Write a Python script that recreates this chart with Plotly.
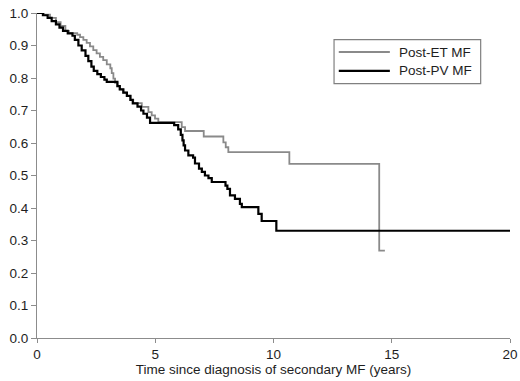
import plotly.graph_objects as go

# Post-ET MF (grey) Kaplan-Meier steps
et_time = [0, 0.30, 0.55, 0.80, 1.00, 1.20, 1.35, 1.70, 1.82, 1.96, 2.10, 2.24, 2.38, 2.52, 2.66,
           2.80, 2.95, 3.10, 3.16, 3.23, 3.30, 3.40, 3.50, 3.65, 3.80, 3.95, 4.07, 4.43, 4.71,
           4.85, 4.99, 5.13, 6.12, 6.26, 7.05, 7.88, 7.98, 8.09, 10.67, 14.47, 14.71]
et_surv = [1.0, 0.995, 0.985, 0.972, 0.960, 0.945, 0.938, 0.933, 0.926, 0.917, 0.908, 0.897, 0.886,
           0.876, 0.865, 0.855, 0.842, 0.830, 0.815, 0.798, 0.785, 0.775, 0.765, 0.755, 0.745,
           0.733, 0.723, 0.711, 0.695, 0.685, 0.675, 0.664, 0.649, 0.637, 0.620, 0.602, 0.587,
           0.572, 0.536, 0.269, 0.269]

# Post-PV MF (black) Kaplan-Meier steps
pv_time = [0, 0.25, 0.45, 0.62, 0.80, 0.95, 1.10, 1.30, 1.50, 1.60, 1.75, 1.89, 2.05, 2.17, 2.30,
           2.40, 2.55, 2.70, 2.85, 2.95, 3.40, 3.50, 3.65, 3.80, 3.95, 4.05, 4.25, 4.40, 4.50,
           4.65, 4.78, 5.80, 5.97, 6.08, 6.15, 6.20, 6.26, 6.40, 6.60, 6.68, 6.85, 6.97, 7.10,
           7.25, 7.39, 7.97, 8.05, 8.16, 8.37, 8.58, 8.66, 9.36, 9.50, 10.12, 20.0]
pv_surv = [1.0, 0.993, 0.985, 0.975, 0.965, 0.955, 0.945, 0.937, 0.930, 0.917, 0.900, 0.885, 0.868,
           0.852, 0.835, 0.822, 0.812, 0.803, 0.795, 0.788, 0.775, 0.765, 0.755, 0.745, 0.733,
           0.722, 0.712, 0.700, 0.690, 0.678, 0.662, 0.655, 0.642, 0.625, 0.608, 0.593, 0.577,
           0.562, 0.555, 0.537, 0.521, 0.511, 0.500, 0.492, 0.480, 0.469, 0.459, 0.439, 0.428,
           0.413, 0.403, 0.382, 0.360, 0.330, 0.330]

series_names = ["Post-ET MF", "Post-PV MF"]
series_colors = ["#8a8a8a", "#000000"]
series_widths = [1.8, 2.2]

x_ticks = [0, 5, 10, 15, 20]
y_ticks = [0.0, 0.1, 0.2, 0.3, 0.4, 0.5, 0.6, 0.7, 0.8, 0.9, 1.0]

FONT = "Liberation Sans, Arial, sans-serif"
AXIS = "#8c8c8c"
TXT = "#1e1e1e"

fig = go.Figure()
for t, s, n, c, w in zip([et_time, pv_time], [et_surv, pv_surv],
                         series_names, series_colors, series_widths):
    fig.add_trace(go.Scatter(x=t, y=s, mode="lines", line_shape="hv",
                             line=dict(color=c, width=w), name=n, showlegend=False))

# legend box drawn in paper coordinates (top-right inside the plot)
box_x0, box_x1, box_y0, box_y1 = 0.628, 0.938, 0.783, 0.918
fig.add_shape(type="rect", xref="paper", yref="paper", x0=box_x0, x1=box_x1,
              y0=box_y0, y1=box_y1, line=dict(color="#808080", width=1.2),
              fillcolor="white", layer="above")
row_y = [0.880, 0.822]
for yy, n, c, w in zip(row_y, series_names, series_colors, series_widths):
    fig.add_shape(type="line", xref="paper", yref="paper", x0=0.638, x1=0.746,
                  y0=yy, y1=yy, line=dict(color=c, width=w + 0.2), layer="above")
    fig.add_annotation(xref="paper", yref="paper", x=0.762, y=yy, text=n,
                       showarrow=False, xanchor="left", yanchor="middle",
                       font=dict(family=FONT, size=13.5, color=TXT))

fig.update_layout(
    width=520, height=381,
    margin=dict(l=37, r=10, t=13, b=43, autoexpand=False),
    paper_bgcolor="white", plot_bgcolor="white",
    font=dict(family=FONT, size=13.5, color=TXT),
    showlegend=False,
)
fig.update_xaxes(range=[0, 20], tickvals=x_ticks, ticktext=[str(v) for v in x_ticks],
                 showline=True, linecolor=AXIS, linewidth=1.2, ticks="outside",
                 ticklen=4, tickcolor=AXIS, showgrid=False, zeroline=False, automargin=False,
                 title=dict(text="Time since diagnosis of secondary MF (years)",
                            standoff=0, font=dict(size=13.5, color=TXT)),
                 tickfont=dict(size=13.5, color=TXT))
fig.update_yaxes(range=[0, 1.0], tickvals=y_ticks, ticktext=[f"{v:.1f}" for v in y_ticks],
                 showline=True, linecolor=AXIS, linewidth=1.2, ticks="outside",
                 ticklen=5, tickcolor=AXIS, showgrid=False, zeroline=False, automargin=False,
                 tickfont=dict(size=13.5, color=TXT))

fig.write_html("out.html", config={"displayModeBar": False},
               post_script="document.body.style.margin='0';document.body.style.padding='0';")
